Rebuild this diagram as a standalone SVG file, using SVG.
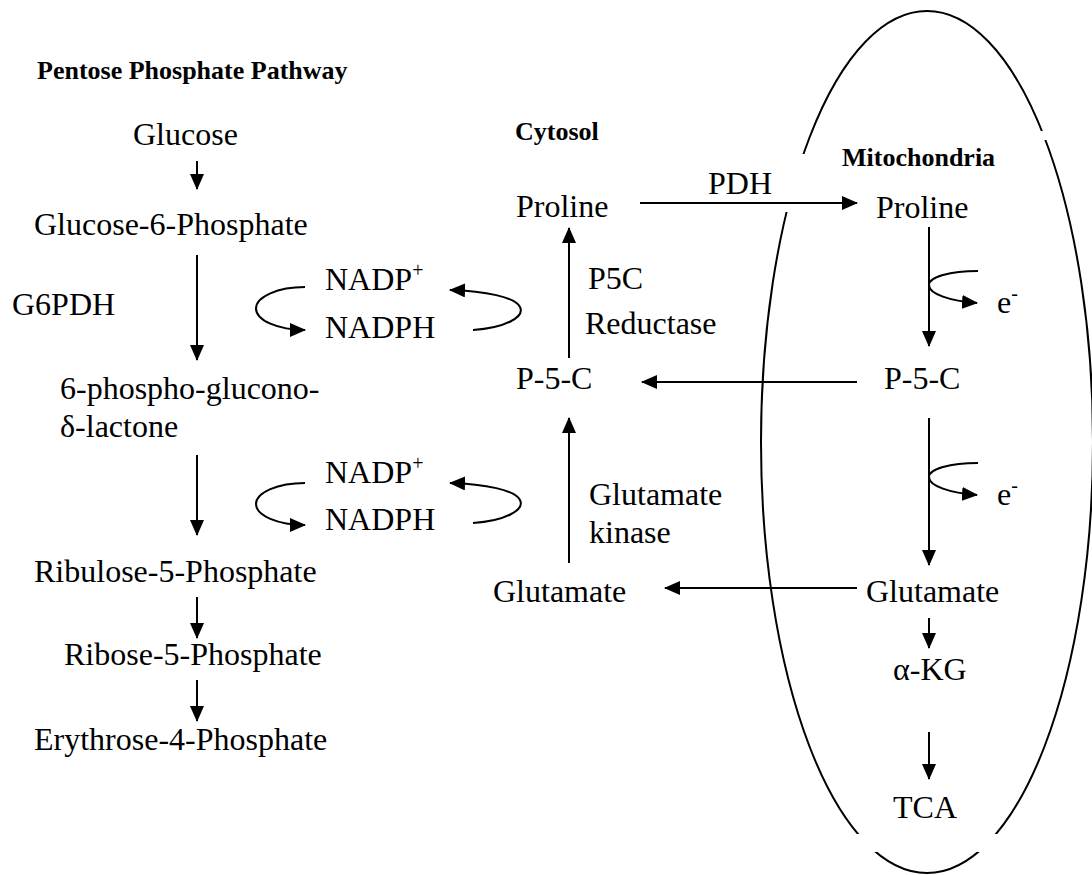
<svg xmlns="http://www.w3.org/2000/svg" width="1092" height="875" viewBox="0 0 1092 875">
<style>
text{font-family:"Liberation Serif","Times New Roman",serif;font-size:32px;fill:#000}
.b{font-weight:bold;font-size:26px}
.sup{font-size:20px}
.ln{stroke:#000;stroke-width:2;fill:none}
.ar{stroke:#000;stroke-width:2;fill:none;marker-end:url(#ah)}
</style>
<defs>
<marker id="ah" viewBox="0 0 16 14" refX="15" refY="7" markerWidth="16" markerHeight="14" markerUnits="userSpaceOnUse" orient="auto"><path d="M0,0 L16,7 L0,14 z" fill="#000"/></marker>
<mask id="gaps" maskUnits="userSpaceOnUse" x="0" y="0" width="1092" height="875">
<rect x="0" y="0" width="1092" height="875" fill="#fff"/>
<rect x="775" y="154" width="40" height="58" fill="#000"/>
<rect x="1030" y="131" width="30" height="9" fill="#000"/>
<rect x="840" y="834" width="180" height="18" fill="#000"/>
</mask>
</defs>
<g id="mitochondria-membrane"><ellipse cx="927" cy="442" rx="166" ry="431" class="ln" mask="url(#gaps)"/></g>
<g id="labels">
<text class="b" x="37" y="79">Pentose Phosphate Pathway</text>
<text class="b" x="515" y="140">Cytosol</text>
<text class="b" x="842" y="166">Mitochondria</text>
<text x="12" y="315">G6PDH</text>
<text x="588" y="289">P5C</text>
<text x="585" y="334">Reductase</text>
<text x="589" y="505">Glutamate</text>
<text x="589" y="543">kinase</text>
<text x="708" y="194">PDH</text>
</g>
<g id="n-glucose"><text x="133" y="145">Glucose</text></g>
<g id="n-g6p"><text x="34" y="235">Glucose-6-Phosphate</text></g>
<g id="n-6pg"><text x="60" y="399">6-phospho-glucono-</text><text x="60" y="437">δ-lactone</text></g>
<g id="n-ru5p"><text x="34" y="582">Ribulose-5-Phosphate</text></g>
<g id="n-r5p"><text x="64" y="665">Ribose-5-Phosphate</text></g>
<g id="n-e4p"><text x="34" y="750">Erythrose-4-Phosphate</text></g>
<g id="n-nadp1"><text x="325" y="290">NADP<tspan class="sup" dy="-13">+</tspan></text><text x="325" y="338">NADPH</text></g>
<g id="n-nadp2"><text x="325" y="483">NADP<tspan class="sup" dy="-13">+</tspan></text><text x="325" y="530">NADPH</text></g>
<g id="n-proline-c"><text x="516" y="217">Proline</text></g>
<g id="n-p5c-c"><text x="516" y="389">P-5-C</text></g>
<g id="n-glutamate-c"><text x="493" y="602">Glutamate</text></g>
<g id="n-proline-m"><text x="876" y="218">Proline</text></g>
<g id="n-p5c-m"><text x="884" y="389">P-5-C</text></g>
<g id="n-glutamate-m"><text x="866" y="602">Glutamate</text></g>
<g id="n-akg"><text x="893" y="680">α-KG</text></g>
<g id="n-tca"><text x="893" y="818">TCA</text></g>
<g id="n-e1"><text x="997" y="313">e<tspan class="sup" dy="-13">-</tspan></text></g>
<g id="n-e2"><text x="997" y="505">e<tspan class="sup" dy="-13">-</tspan></text></g>
<g id="connectors">
<line class="ar" x1="197" y1="161" x2="197" y2="189"/>
<line class="ar" x1="197" y1="255" x2="197" y2="360"/>
<line class="ar" x1="197" y1="455" x2="197" y2="535"/>
<line class="ar" x1="197" y1="597" x2="197" y2="638"/>
<line class="ar" x1="197" y1="680" x2="197" y2="721"/>
<path class="ar" d="M305,287 A49,21.5 0 0 0 305,330"/>
<path class="ar" d="M473,330 C505,328 525,317 520,307 C515,297 485,291 450,290"/>
<path class="ar" d="M305,483 A49,21 0 0 0 305,525"/>
<path class="ar" d="M473,523 C505,521 525,510 520,500 C515,490 485,484 450,483"/>
<line class="ar" x1="569" y1="358" x2="569" y2="228"/>
<line class="ar" x1="569" y1="563" x2="569" y2="418"/>
<line class="ar" x1="640" y1="203" x2="857" y2="203"/>
<line class="ar" x1="857" y1="382" x2="642" y2="382"/>
<line class="ar" x1="857" y1="588" x2="665" y2="588"/>
<line class="ar" x1="929" y1="227" x2="929" y2="346"/>
<path class="ar" d="M978,271 C950,271 929,277 929,285 C929,294 950,301 977,303"/>
<line class="ar" x1="929" y1="418" x2="929" y2="565"/>
<path class="ar" d="M978,463 C950,463 929,469 929,477 C929,486 950,493 977,495"/>
<line class="ar" x1="929" y1="618" x2="929" y2="648"/>
<line class="ar" x1="929" y1="732" x2="929" y2="779"/>
</g>
</svg>
